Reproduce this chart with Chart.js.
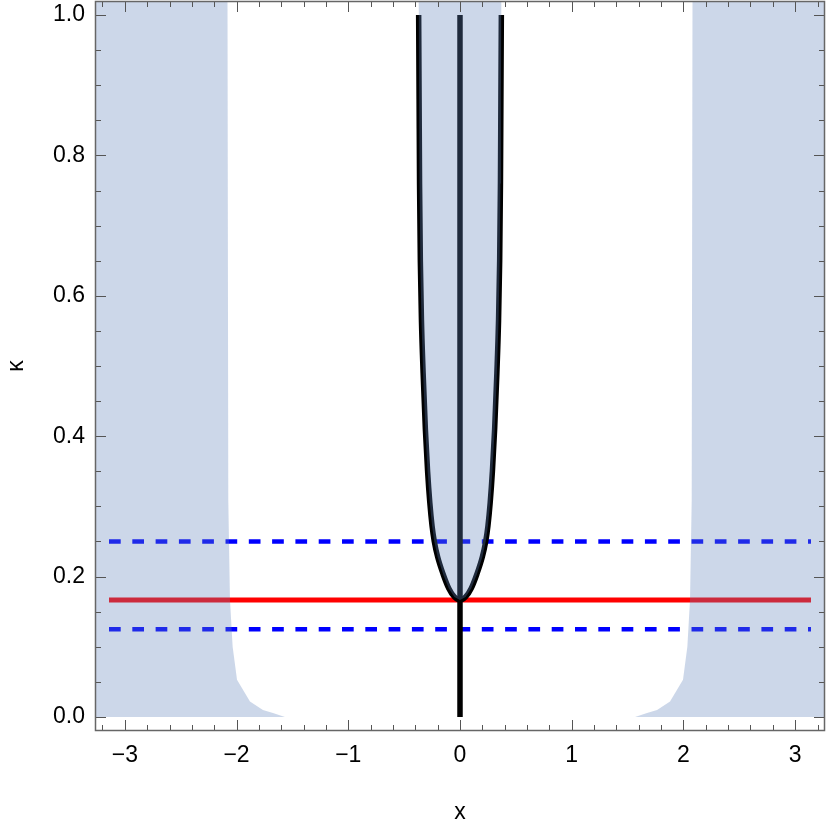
<!DOCTYPE html>
<html>
<head>
<meta charset="utf-8">
<script src="https://cdn.jsdelivr.net/npm/chart.js@4.4.1/dist/chart.umd.min.js"></script>
<style>
  html, body { margin: 0; padding: 0; background: #fff; }
</style>
</head>
<body>
<canvas id="kappaChart" width="830" height="822"></canvas>
<script>
  "use strict";

  // Axis ranges and tick labels
  const xMin = -3.267;
  const xMax = 3.267;
  const yMin = -0.02;
  const yMax = 1.02;
  const xTicks = [-3, -2, -1, 0, 1, 2, 3];
  const yTicks = [0, 0.2, 0.4, 0.6, 0.8, 1.0];

  // Left shaded region, upper edge (x, kappa)
  const leftEdgeX = [-3.267, -2.081, -2.074, -2.059, -2.035, -1.996, -1.88, -1.764, -1.674, -1.567];
  const leftEdgeK = [1.02, 1.02, 0.309, 0.167, 0.1, 0.053, 0.022, 0.01, 0.0057, 0.0];

  // Right shaded region, upper edge (x, kappa)
  const rightEdgeX = [1.567, 1.674, 1.764, 1.88, 1.996, 2.035, 2.059, 2.074, 2.081, 3.267];
  const rightEdgeK = [0.0, 0.0057, 0.01, 0.022, 0.053, 0.1, 0.167, 0.309, 1.02, 1.02];

  // U shaped boundary curve (x, kappa)
  const curveX = [-0.37, -0.366, -0.362, -0.355, -0.345, -0.33, -0.31, -0.29, -0.27, -0.25, -0.23, -0.2, -0.15, -0.1, -0.05, 0,
                  0.05, 0.1, 0.15, 0.2, 0.23, 0.25, 0.27, 0.29, 0.31, 0.33, 0.345, 0.355, 0.362, 0.366, 0.37];
  const curveK = [1.0, 0.88, 0.76, 0.65, 0.565, 0.49, 0.41, 0.35, 0.305, 0.272, 0.25, 0.228, 0.203, 0.183, 0.171, 0.1667,
                  0.171, 0.183, 0.203, 0.228, 0.25, 0.272, 0.305, 0.35, 0.41, 0.49, 0.565, 0.65, 0.76, 0.88, 1.0];

  // Vertical line at x = 0
  const stemX = [0, 0];
  const stemK = [0, 1];

  // Horizontal reference levels
  const lineXs = [-3.1416, 3.1416];
  const redLevel = 0.1667;
  const blueUpper = 0.25;
  const blueLower = 0.125;

  const shade = "rgba(97, 132, 186, 0.32)";
  const tickFont = { family: "'Liberation Sans', Arial, sans-serif", size: 23 };

  function pts(xs, ks) {
    return xs.map(function (v, i) {
      return { x: v, y: ks[i] };
    });
  }

  // the middle shading runs from the curve up to the top of the frame
  const centerShade = [{ x: -0.372, y: yMax }]
    .concat(pts(curveX, curveK))
    .concat([{ x: 0.372, y: yMax }]);

  // Frame with inward ticks on all four sides, plus the x tick labels
  const frameTicks = {
    id: "frameTicks",
    afterDraw(chart) {
      const { ctx, chartArea: a } = chart;
      const sx = chart.scales.x;
      const sy = chart.scales.y;
      ctx.save();
      ctx.strokeStyle = "#555";
      ctx.lineWidth = 1;
      ctx.beginPath();
      for (let i = -16; i <= 16; i++) {
        const px = Math.round(sx.getPixelForValue(i * 0.2)) + 0.5;
        const len = i % 5 === 0 ? 11 : 6;
        ctx.moveTo(px, a.bottom);
        ctx.lineTo(px, a.bottom - len);
        ctx.moveTo(px, a.top);
        ctx.lineTo(px, a.top + len);
      }
      for (let j = 0; j <= 20; j++) {
        const py = Math.round(sy.getPixelForValue(j * 0.05)) + 0.5;
        const len = j % 4 === 0 ? 11 : 6;
        ctx.moveTo(a.left, py);
        ctx.lineTo(a.left + len, py);
        ctx.moveTo(a.right, py);
        ctx.lineTo(a.right - len, py);
      }
      ctx.stroke();
      ctx.strokeStyle = "#666";
      ctx.lineWidth = 1.5;
      ctx.strokeRect(a.left + 0.5, a.top + 0.5, a.right - a.left - 1, a.bottom - a.top - 1);

      ctx.fillStyle = "#000";
      ctx.font = tickFont.size + "px " + tickFont.family;
      ctx.textAlign = "center";
      ctx.textBaseline = "middle";
      xTicks.forEach(function (v) {
        ctx.fillText(String(v).replace("-", "\u2212"), sx.getPixelForValue(v), a.bottom + 25);
      });
      ctx.restore();
    },
  };

  const ctx = document.getElementById("kappaChart").getContext("2d");
  const kappaChart = new Chart(ctx, {
    type: "scatter",
    data: {
      datasets: [
        {
          data: pts(leftEdgeX, leftEdgeK),
          showLine: true,
          borderWidth: 0,
          backgroundColor: shade,
          fill: { value: 0 },
          pointRadius: 0,
          order: 0,
        },
        {
          data: pts(rightEdgeX, rightEdgeK),
          showLine: true,
          borderWidth: 0,
          backgroundColor: shade,
          fill: { value: 0 },
          pointRadius: 0,
          order: 0,
        },
        {
          data: centerShade,
          showLine: true,
          borderWidth: 0,
          backgroundColor: shade,
          fill: "end",
          pointRadius: 0,
          order: 0,
        },
        {
          data: pts(curveX, curveK),
          showLine: true,
          borderColor: "#000",
          borderWidth: 5.5,
          cubicInterpolationMode: "monotone",
          pointRadius: 0,
          order: 1,
        },
        {
          data: pts(stemX, stemK),
          showLine: true,
          borderColor: "#000",
          borderWidth: 5.5,
          pointRadius: 0,
          order: 1,
        },
        {
          data: pts(lineXs, [redLevel, redLevel]),
          showLine: true,
          borderColor: "#ff0000",
          borderWidth: 5,
          pointRadius: 0,
          order: 2,
        },
        {
          data: pts(lineXs, [blueUpper, blueUpper]),
          showLine: true,
          borderColor: "#0000ff",
          borderWidth: 4.5,
          borderDash: [11.7, 11.6],
          pointRadius: 0,
          order: 3,
        },
        {
          data: pts(lineXs, [blueLower, blueLower]),
          showLine: true,
          borderColor: "#0000ff",
          borderWidth: 4.5,
          borderDash: [11.7, 11.6],
          pointRadius: 0,
          order: 3,
        },
      ],
    },
    options: {
      responsive: false,
      animation: false,
      devicePixelRatio: 1,
      layout: { padding: { top: 1, right: 5, bottom: 0, left: 0 } },
      plugins: {
        legend: { display: false },
        tooltip: { enabled: false },
      },
      scales: {
        x: {
          type: "linear",
          min: xMin,
          max: xMax,
          afterBuildTicks: function (s) {
            s.ticks = xTicks.map(function (v) { return { value: v }; });
          },
          afterFit: function (s) {
            s.height = 91;
            s.paddingLeft = 0;
            s.paddingRight = 0;
          },
          grid: { display: false, drawTicks: false },
          border: { display: false },
          ticks: { display: false },
          title: {
            display: true,
            text: "x",
            color: "#000",
            font: { family: tickFont.family, size: 23, lineHeight: 0.8 },
            padding: { top: 0, bottom: 0 },
          },
        },
        y: {
          type: "linear",
          min: yMin,
          max: yMax,
          afterBuildTicks: function (s) {
            s.ticks = yTicks.map(function (v) { return { value: v }; });
          },
          afterFit: function (s) {
            s.width = 95;
            s.paddingTop = 0;
            s.paddingBottom = 0;
          },
          grid: { display: false, drawTicks: false },
          border: { display: false },
          ticks: {
            color: "#000",
            font: tickFont,
            padding: 10,
            autoSkip: false,
            callback: function (v) { return v.toFixed(1); },
          },
          title: {
            display: true,
            text: "\u03ba",
            color: "#000",
            font: { family: tickFont.family, size: 23 },
            padding: { top: 3, bottom: 0 },
          },
        },
      },
    },
    plugins: [frameTicks],
  });
</script>
</body>
</html>
